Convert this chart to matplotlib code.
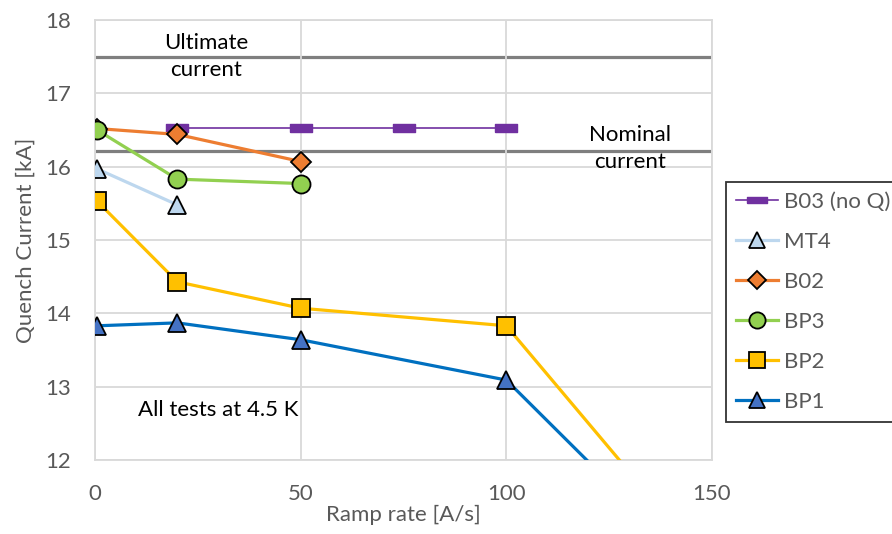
import matplotlib
matplotlib.use("Agg")
import matplotlib.pyplot as plt

plt.rcParams['font.family'] = ['Lato', 'DejaVu Sans']

# ---- data ----
b03_x = [20, 50, 75, 100]
b03_y = [16.53, 16.53, 16.53, 16.53]
mt4_x = [0.5, 20]
mt4_y = [15.97, 15.48]
b02_x = [0.5, 20, 50]
b02_y = [16.52, 16.44, 16.07]
bp3_x = [0.5, 20, 50]
bp3_y = [16.50, 15.83, 15.77]
bp2_x = [0.5, 20, 50, 100, 150]
bp2_y = [15.53, 14.43, 14.07, 13.83, 10.5]
bp1_x = [0.5, 20, 50, 100, 150]
bp1_y = [13.83, 13.87, 13.64, 13.09, 10.3]
ultimate_current = 17.5
nominal_current = 16.22
x_ticks = [0, 50, 100, 150]
y_ticks = [12, 13, 14, 15, 16, 17, 18]

FS = 16

fig = plt.figure(figsize=(8.92, 5.34), dpi=100)
ax = fig.add_axes([95/892, 1-460/534, (712-95)/892, (460-20)/534])
ax.set_xlim(0, 150)
ax.set_ylim(12, 18)
ax.set_xticks(x_ticks)
ax.set_yticks(y_ticks)
ax.grid(True, color='#d9d9d9', linewidth=1.3, zorder=0)
for s in ax.spines.values():
    s.set_color('#d9d9d9')
    s.set_linewidth(1.3)
ax.tick_params(length=0, labelsize=FS, labelcolor='#595959')
ax.tick_params(axis='y', pad=17)
ax.tick_params(axis='x', pad=17)

ax.axhline(ultimate_current, color='#7f7f7f', linewidth=2.3, zorder=1)
ax.axhline(nominal_current, color='#7f7f7f', linewidth=2.3, zorder=1)

rect = [(-1.5, -0.5), (1.5, -0.5), (1.5, 0.5), (-1.5, 0.5), (-1.5, -0.5)]
ax.plot(b03_x, b03_y, color='#7030A0', linewidth=1.2, marker=rect, markersize=16,
        markerfacecolor='#7030A0', markeredgecolor='#7030A0', label='B03 (no Q)', zorder=3)
ax.plot(mt4_x, mt4_y, color='#BDD7EE', linewidth=2.3, marker='^', markersize=12.5,
        markerfacecolor='#BDD7EE', markeredgecolor='black', markeredgewidth=1.3,
        label='MT4', zorder=3)
ax.plot(b02_x, b02_y, color='#ED7D31', linewidth=2.3, marker='D', markersize=10.5,
        markerfacecolor='#ED7D31', markeredgecolor='black', markeredgewidth=1.3,
        label='B02', zorder=3)
ax.plot(bp3_x, bp3_y, color='#92D050', linewidth=2.3, marker='o', markersize=13,
        markerfacecolor='#92D050', markeredgecolor='black', markeredgewidth=1.3,
        label='BP3', zorder=3)
ax.plot(bp2_x, bp2_y, color='#FFC000', linewidth=2.3, marker='s', markersize=12.5,
        markerfacecolor='#FFC000', markeredgecolor='black', markeredgewidth=1.3,
        label='BP2', zorder=3)
ax.plot(bp1_x, bp1_y, color='#0070C0', linewidth=2.3, marker='^', markersize=13.5,
        markerfacecolor='#4472C4', markeredgecolor='black', markeredgewidth=1.3,
        label='BP1', zorder=3)

ax.text(27, 17.5, 'Ultimate\ncurrent', ha='center', va='center', fontsize=FS,
        color='black', linespacing=1.45, zorder=4)
ax.text(130, 16.25, 'Nominal\ncurrent', ha='center', va='center', fontsize=FS,
        color='black', linespacing=1.45, zorder=4)
ax.text(30, 12.68, 'All tests at 4.5 K', ha='center', va='center', fontsize=FS,
        color='black', zorder=4)

ax.set_xlabel('Ramp rate [A/s]', fontsize=FS, color='#595959', labelpad=1)
ax.set_ylabel('Quench Current [kA]', fontsize=FS, color='#595959', labelpad=7)

leg = fig.legend(loc='upper left', bbox_to_anchor=(726/892, 1-182/534),
                 borderaxespad=0, frameon=True, fancybox=False, edgecolor='black',
                 fontsize=FS, handlelength=1.9, labelspacing=0.9, borderpad=0.45,
                 handletextpad=0.25, labelcolor='#595959', markerscale=0.9)
leg.get_frame().set_linewidth(1.3)

fig.savefig('out.png', dpi=100)
